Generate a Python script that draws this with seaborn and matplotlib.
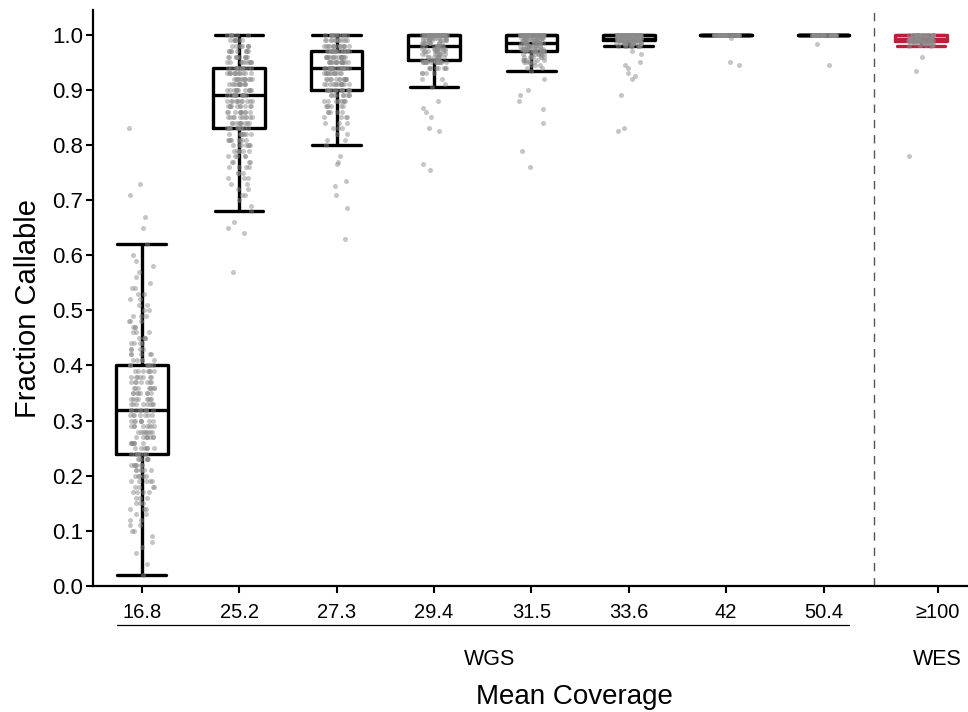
import numpy as np
import pandas as pd
import matplotlib
matplotlib.use("Agg")
import matplotlib.pyplot as plt
import seaborn as sns

# Coverage groups (x axis), WGS runs first, WES last
coverage_labels = ["16.8", "25.2", "27.3", "29.4", "31.5", "33.6", "42", "50.4", "≥100"]
wgs_labels = coverage_labels[:-1]
wes_label = coverage_labels[-1]

# Fraction callable per sample as (value, number of samples)
cov_16_8 = [(0.02, 1), (0.04, 1), (0.06, 1), (0.07, 1), (0.08, 1), (0.09, 1),
            (0.10, 2), (0.11, 2), (0.12, 2), (0.13, 2), (0.14, 3), (0.15, 3),
            (0.16, 3), (0.17, 4), (0.18, 4), (0.19, 5), (0.20, 5), (0.21, 6),
            (0.22, 7), (0.23, 7),
            (0.24, 7), (0.25, 7), (0.26, 8), (0.27, 8), (0.28, 8), (0.29, 8),
            (0.30, 8), (0.31, 7),
            (0.32, 8), (0.33, 8), (0.34, 8), (0.35, 8), (0.36, 8), (0.37, 7),
            (0.38, 7), (0.39, 7),
            (0.40, 6), (0.41, 5), (0.42, 5), (0.43, 4), (0.44, 4), (0.45, 4),
            (0.46, 3), (0.47, 3), (0.48, 3), (0.49, 3), (0.50, 2), (0.51, 2),
            (0.52, 2), (0.53, 2), (0.54, 2), (0.55, 1), (0.56, 1), (0.57, 1),
            (0.58, 1), (0.59, 1), (0.60, 1), (0.62, 1),
            (0.65, 1), (0.67, 1), (0.71, 1), (0.73, 1), (0.83, 1)]
cov_25_2 = [(0.57, 1), (0.64, 1), (0.65, 1), (0.66, 1),
            (0.68, 1), (0.69, 1), (0.70, 1), (0.71, 2), (0.72, 2), (0.73, 2),
            (0.74, 3), (0.75, 3), (0.76, 4), (0.77, 4), (0.78, 5), (0.79, 6),
            (0.80, 7), (0.81, 8), (0.82, 8),
            (0.83, 10), (0.84, 10), (0.85, 10), (0.86, 10), (0.87, 10), (0.88, 11),
            (0.89, 12), (0.90, 12), (0.91, 12), (0.92, 12), (0.93, 13),
            (0.94, 11), (0.95, 10), (0.96, 10), (0.97, 9), (0.98, 8), (0.99, 8),
            (1.00, 6)]
cov_27_3 = [(0.63, 1), (0.685, 1), (0.71, 1), (0.725, 1), (0.735, 1), (0.765, 1),
            (0.77, 1), (0.78, 1),
            (0.80, 1), (0.81, 2), (0.82, 2), (0.83, 3), (0.84, 3), (0.85, 4),
            (0.86, 5), (0.87, 6), (0.88, 8), (0.89, 9),
            (0.90, 12), (0.91, 13), (0.92, 13), (0.93, 13),
            (0.94, 17), (0.95, 17), (0.96, 17),
            (0.97, 16), (0.98, 14), (0.99, 12), (1.00, 10)]
cov_29_4 = [(0.755, 1), (0.765, 1), (0.825, 1), (0.83, 1), (0.85, 1), (0.86, 1),
            (0.867, 1), (0.88, 1),
            (0.905, 1), (0.91, 1), (0.92, 2), (0.93, 4), (0.94, 8), (0.95, 16),
            (0.955, 8), (0.96, 8), (0.965, 8), (0.97, 8), (0.975, 8),
            (0.98, 10), (0.985, 10), (0.99, 10), (0.995, 10),
            (1.00, 41)]
cov_31_5 = [(0.76, 1), (0.79, 1), (0.84, 1), (0.865, 1), (0.88, 1), (0.89, 1),
            (0.90, 1), (0.92, 1),
            (0.935, 1), (0.94, 2), (0.945, 3), (0.95, 5), (0.955, 6), (0.96, 7),
            (0.965, 8),
            (0.97, 14), (0.975, 13), (0.98, 13),
            (0.985, 14), (0.99, 13), (0.995, 13),
            (1.00, 41)]
cov_33_6 = [(0.825, 1), (0.83, 1), (0.89, 1), (0.92, 1), (0.925, 1), (0.93, 1),
            (0.94, 1), (0.945, 1), (0.95, 1), (0.965, 1), (0.97, 1),
            (0.98, 9), (0.985, 20),
            (0.99, 40),
            (0.992, 20), (0.996, 20),
            (1.00, 41)]
cov_42 = [(0.945, 1), (0.95, 1), (0.995, 1), (1.00, 38)]
cov_50_4 = [(0.946, 1), (0.983, 1), (1.00, 39)]
cov_wes = [(0.78, 1), (0.935, 1), (0.96, 1),
           (0.979, 2), (0.982, 5), (0.985, 10),
           (0.988, 12), (0.99, 8),
           (0.992, 8), (0.995, 6), (0.998, 6),
           (1.00, 21)]

groups = [cov_16_8, cov_25_2, cov_27_3, cov_29_4, cov_31_5,
          cov_33_6, cov_42, cov_50_4, cov_wes]


# Expand (value, count) pairs into one row per sample
def build_frame(labels, group_lists):
    rows = []
    for label, pairs in zip(labels, group_lists):
        for value, count in pairs:
            rows.extend([(label, value)] * count)
    return pd.DataFrame(rows, columns=["coverage", "fraction"])


df = build_frame(coverage_labels, groups)

sns.set_theme(style="ticks")
plt.rcParams["font.family"] = ["Liberation Sans", "DejaVu Sans"]
plt.rcParams["text.color"] = "black"

fig = plt.figure(figsize=(9.68, 7.12), dpi=100)
ax = fig.add_axes([0.0961, 0.177, 0.9056, 0.809])

np.random.seed(3)
sns.stripplot(data=df, x="coverage", y="fraction", order=coverage_labels,
              color="#8c8c8c", alpha=0.5, size=3.6, linewidth=0,
              jitter=0.13, ax=ax)

box_colors = {lab: "black" for lab in wgs_labels}
box_colors[wes_label] = "#be1e3c"
sns.boxplot(data=df, x="coverage", y="fraction", order=coverage_labels,
            hue="coverage", hue_order=coverage_labels, palette=box_colors,
            fill=False, width=0.53, linewidth=2.4, showfliers=False,
            capwidths=0.5, legend=False, ax=ax)

# separator between WGS and WES
ax.axvline(7.52, color="#555555", lw=1, ls=(0, (6, 5)), zorder=0)

ax.set_xlim(-0.5, 8.5)
ax.set_ylim(0, 1.045)
ax.set_yticks(np.arange(0, 1.01, 0.1))
ax.set_yticklabels([f"{v:.1f}" for v in np.arange(0, 1.01, 0.1)], fontsize=16)
ax.set_xticks(list(range(8)) + [8.17])
ax.set_xticklabels(coverage_labels, fontsize=14.5)
ax.tick_params(axis="y", length=5, width=1.5, pad=2, colors="black")
ax.tick_params(axis="x", length=5, width=1.5, pad=7, colors="black")
ax.set_xlabel("")
ax.set_ylabel("")
sns.despine(ax=ax)
for side in ["left", "bottom"]:
    ax.spines[side].set_linewidth(1.6)
    ax.spines[side].set_color("black")

# group annotations under the tick labels
trans = ax.get_xaxis_transform()
ax.plot([-0.25, 7.26], [-0.0677, -0.0677], color="black", lw=0.9,
        transform=trans, clip_on=False)
ax.text(3.57, -0.128, "WGS", transform=trans, ha="center", va="center",
        fontsize=15.5, color="black")
ax.text(8.17, -0.128, "WES", transform=trans, ha="center", va="center",
        fontsize=15.5, color="black")
ax.text(4.44, -0.193, "Mean Coverage", transform=trans, ha="center",
        va="center", fontsize=20, color="black")
fig.text(28 / 968, 1 - 308 / 712, "Fraction Callable", rotation=90,
         ha="center", va="center", fontsize=21, color="black")

fig.savefig("out.png", dpi=100)
